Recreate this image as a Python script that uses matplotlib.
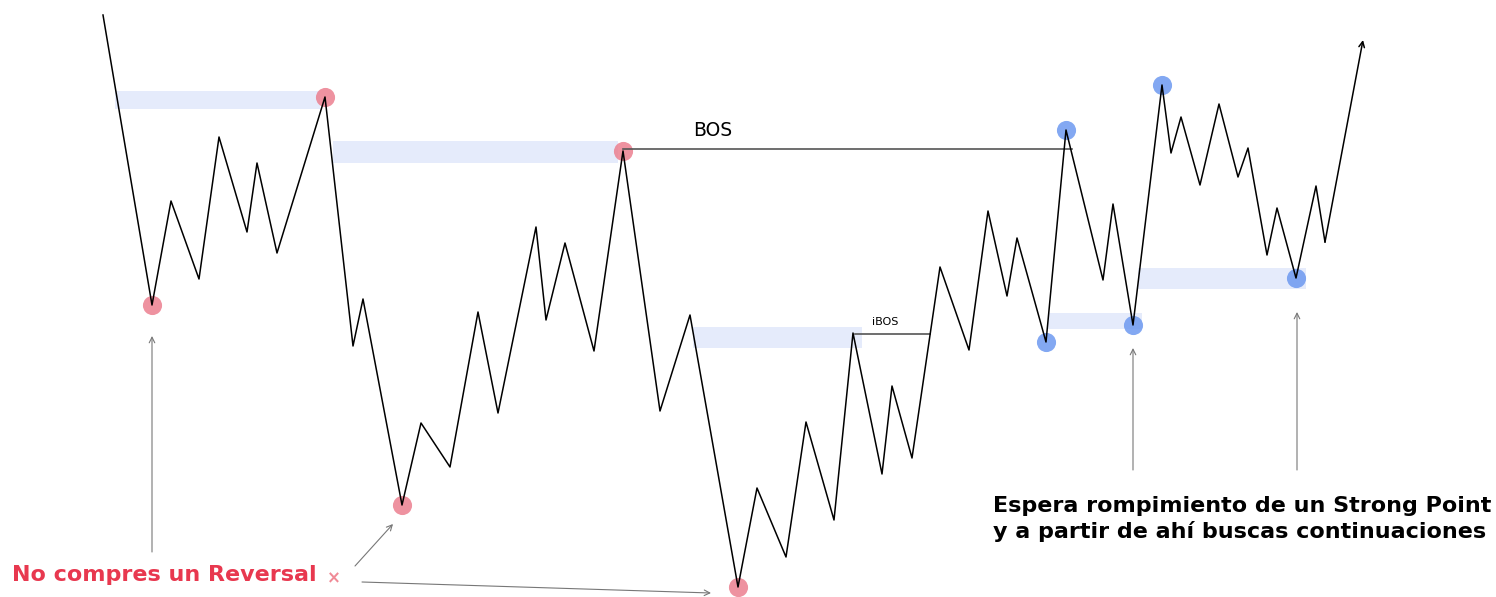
import matplotlib.pyplot as plt

# price path, pixel-like coordinates (x right, y down)
path_x = [103, 152, 171, 199, 219, 247, 257, 277, 325, 353, 363, 402, 421, 450,
          478, 498, 536, 546, 565, 594, 623, 660, 690, 738, 757, 786, 806, 834,
          853, 882, 892, 912, 940, 969, 988, 1007, 1017, 1046, 1066, 1103, 1113,
          1133, 1162, 1171, 1181, 1200, 1219, 1238, 1248, 1267, 1277, 1296, 1316,
          1325, 1363]
path_y = [15, 305, 201, 279, 137, 232, 163, 253, 97, 346, 299, 505, 423, 467,
          312, 413, 227, 320, 243, 351, 151, 411, 315, 587, 488, 557, 422, 520,
          333, 474, 386, 458, 267, 350, 211, 296, 238, 342, 130, 280, 204,
          325, 85, 153, 117, 185, 104, 177, 148, 255, 208, 278, 186,
          242, 40]

red_pts_x = [152, 325, 623, 402, 738]
red_pts_y = [305, 97, 151, 505, 587]
blue_pts_x = [1046, 1066, 1133, 1162, 1296]
blue_pts_y = [342, 130, 325, 85, 278]

# zones: x0, x1, y_top, y_bottom
zones = [(115, 320, 91, 109), (333, 618, 141, 163), (693, 862, 327, 348),
         (1048, 1142, 313, 329), (1138, 1306, 268, 289)]

fig = plt.figure(figsize=(14.96, 5.97), dpi=100)
ax = fig.add_axes([0, 0, 1, 1])
ax.set_xlim(0, 1496)
ax.set_ylim(597, 0)
ax.axis("off")

for x0, x1, y0, y1 in zones:
    ax.fill_between([x0, x1], y0, y1, color="#e5ebfb", lw=0, zorder=1)

ax.plot(path_x[:-1], path_y[:-1], color="black", lw=1.1, zorder=3)
ax.annotate("", xy=(path_x[-1], path_y[-1]), xytext=(path_x[-2], path_y[-2]),
            arrowprops=dict(arrowstyle="->", color="black", lw=1.1,
                            shrinkA=0, shrinkB=0), zorder=3)

ax.scatter(red_pts_x, red_pts_y, s=190, color="#ec7f8f", alpha=0.85, lw=0, zorder=2)
ax.scatter(blue_pts_x, blue_pts_y, s=190, color="#6d99f0", alpha=0.85, lw=0, zorder=2)

# BOS / iBOS lines
ax.plot([623, 1072], [149, 149], color="#555555", lw=1.2, zorder=2)
ax.text(713, 131, "BOS", fontsize=13.5, ha="center", va="center")
ax.plot([855, 930], [334, 334], color="#555555", lw=1.2, zorder=2)
ax.text(885, 322, "iBOS", fontsize=8, ha="center", va="center")

# annotation arrows
grey = "#777777"
arrows = [((152, 552), (152, 336)), ((1133, 470), (1133, 348)),
          ((1297, 470), (1297, 312)), ((355, 566), (393, 524)),
          ((362, 582), (711, 593))]
for start, end in arrows:
    ax.annotate("", xy=end, xytext=start,
                arrowprops=dict(arrowstyle="->", color=grey, lw=0.8,
                                shrinkA=0, shrinkB=0))

ax.text(12, 575, "No compres un Reversal", color="#e8384f", fontsize=16,
        fontweight="bold", ha="left", va="center")
ax.text(334, 578, "×", color="#f08a96", fontsize=12, fontweight="bold",
        ha="center", va="center")
ax.text(993, 519, "Espera rompimiento de un Strong Point\ny a partir de ahí buscas continuaciones",
        fontsize=16, fontweight="bold", ha="left", va="center", linespacing=1.35)

fig.savefig("out.png", dpi=100)
